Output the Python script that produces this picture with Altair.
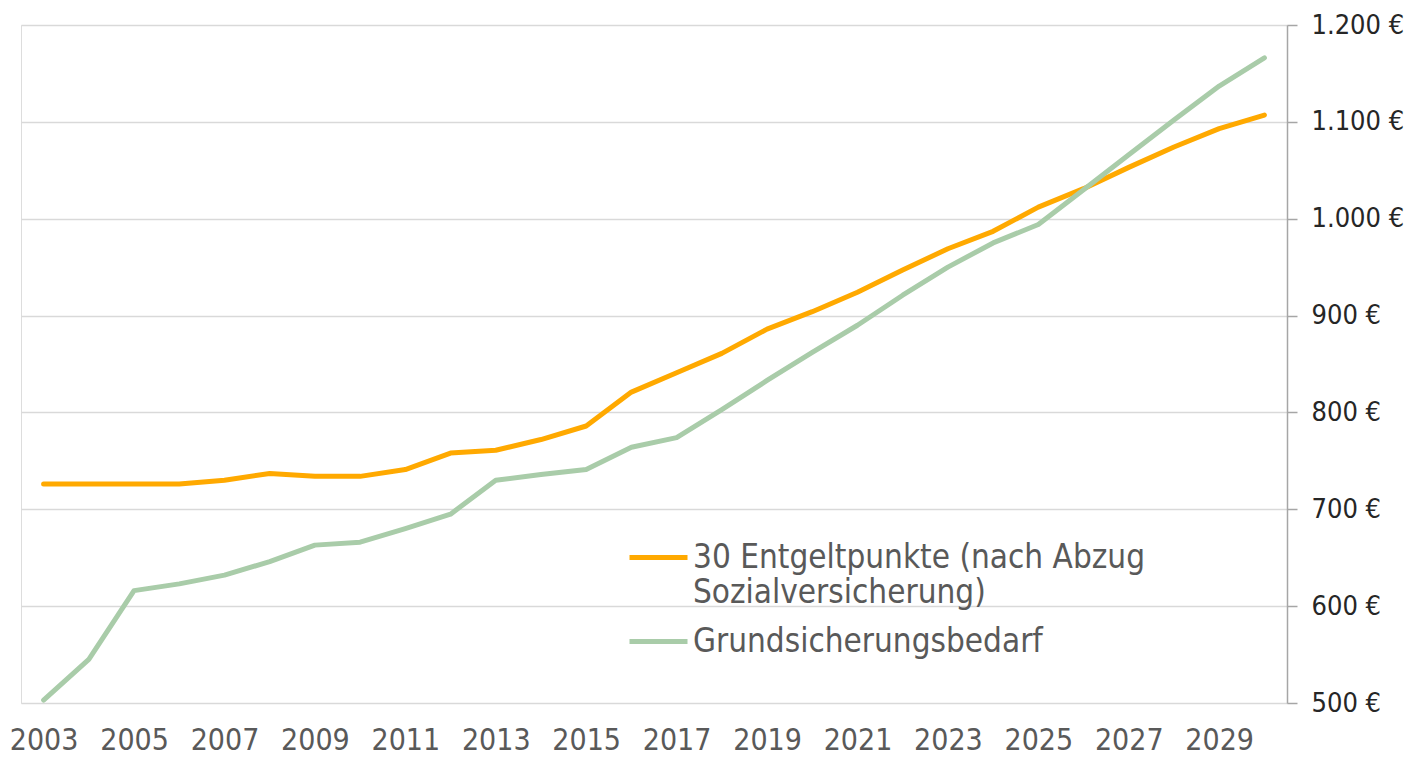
import altair as alt
import pandas as pd

years = [2003, 2004, 2005, 2006, 2007, 2008, 2009, 2010, 2011, 2012, 2013, 2014, 2015, 2016,
         2017, 2018, 2019, 2020, 2021, 2022, 2023, 2024, 2025, 2026, 2027, 2028, 2029, 2030]
entgelt = [726, 726, 726, 726, 730, 737, 734, 734, 741, 758, 761, 772, 786, 821,
           841, 861, 886, 904, 924, 947, 969, 987, 1012, 1031, 1053, 1074, 1093, 1107]
grund = [503, 545, 616, 623, 632, 646, 663, 666, 680, 695, 730, 736, 741, 764,
         774, 803, 833, 862, 890, 921, 950, 975, 994, 1030, 1066, 1102, 1137, 1166]
series_names = ["30 Entgeltpunkte (nach Abzug\nSozialversicherung)", "Grundsicherungsbedarf"]
series_colors = ["#FFA900", "#A9CCA9"]
x_ticks = [2003, 2005, 2007, 2009, 2011, 2013, 2015, 2017, 2019, 2021, 2023, 2025, 2027, 2029]
y_ticks = [500, 600, 700, 800, 900, 1000, 1100, 1200]

rows = []
for y, a, b in zip(years, entgelt, grund):
    rows.append({"Jahr": y, "Wert": a, "Reihe": series_names[0]})
    rows.append({"Jahr": y, "Wert": b, "Reihe": series_names[1]})
df = pd.DataFrame(rows)

FONT = "DejaVu Sans Condensed"

chart = alt.Chart(df).mark_line(strokeWidth=5, strokeJoin="round", strokeCap="round").encode(
    x=alt.X("Jahr:Q",
            scale=alt.Scale(domain=[2002.5, 2030.5], nice=False, zero=False),
            axis=alt.Axis(values=x_ticks, format="d", grid=False, domain=False, ticks=False,
                          labelFont=FONT, labelFontSize=30, labelColor="#595959",
                          labelPadding=22, title=None, labelFlush=False)),
    y=alt.Y("Wert:Q",
            scale=alt.Scale(domain=[500, 1200], nice=False, zero=False),
            axis=alt.Axis(orient="right", values=y_ticks, grid=True, gridColor="#D9D9D9",
                          gridWidth=1.5, domain=True, domainColor="#A6A6A6", domainWidth=1.5,
                          ticks=True, tickColor="#A6A6A6", tickSize=10, tickWidth=1.5,
                          labelFont=FONT, labelFontSize=27, labelColor="#262626",
                          labelPadding=14, title=None,
                          labelExpr="replace(format(datum.value, ',d'), ',', '.') + ' €'")),
    color=alt.Color("Reihe:N",
                    scale=alt.Scale(domain=series_names, range=series_colors),
                    legend=alt.Legend(orient="none", legendX=606, legendY=501, title=None,
                                      symbolType="stroke", symbolSize=3364, symbolStrokeWidth=5,
                                      labelFont=FONT, labelFontSize=33, labelColor="#595959",
                                      labelLimit=2000, labelOffset=3, rowPadding=-6,
                                      labelBaseline="middle",
                                      labelExpr="split(datum.label, '\\n')")),
).properties(
    width=1266, height=678,
    autosize=alt.AutoSizeParams(type="none"),
    padding={"left": 13, "top": 17, "right": 122, "bottom": 53},
).configure_view(stroke=None).configure(background="white")

chart.save("out.html", embed_options={"renderer": "svg", "actions": False})
